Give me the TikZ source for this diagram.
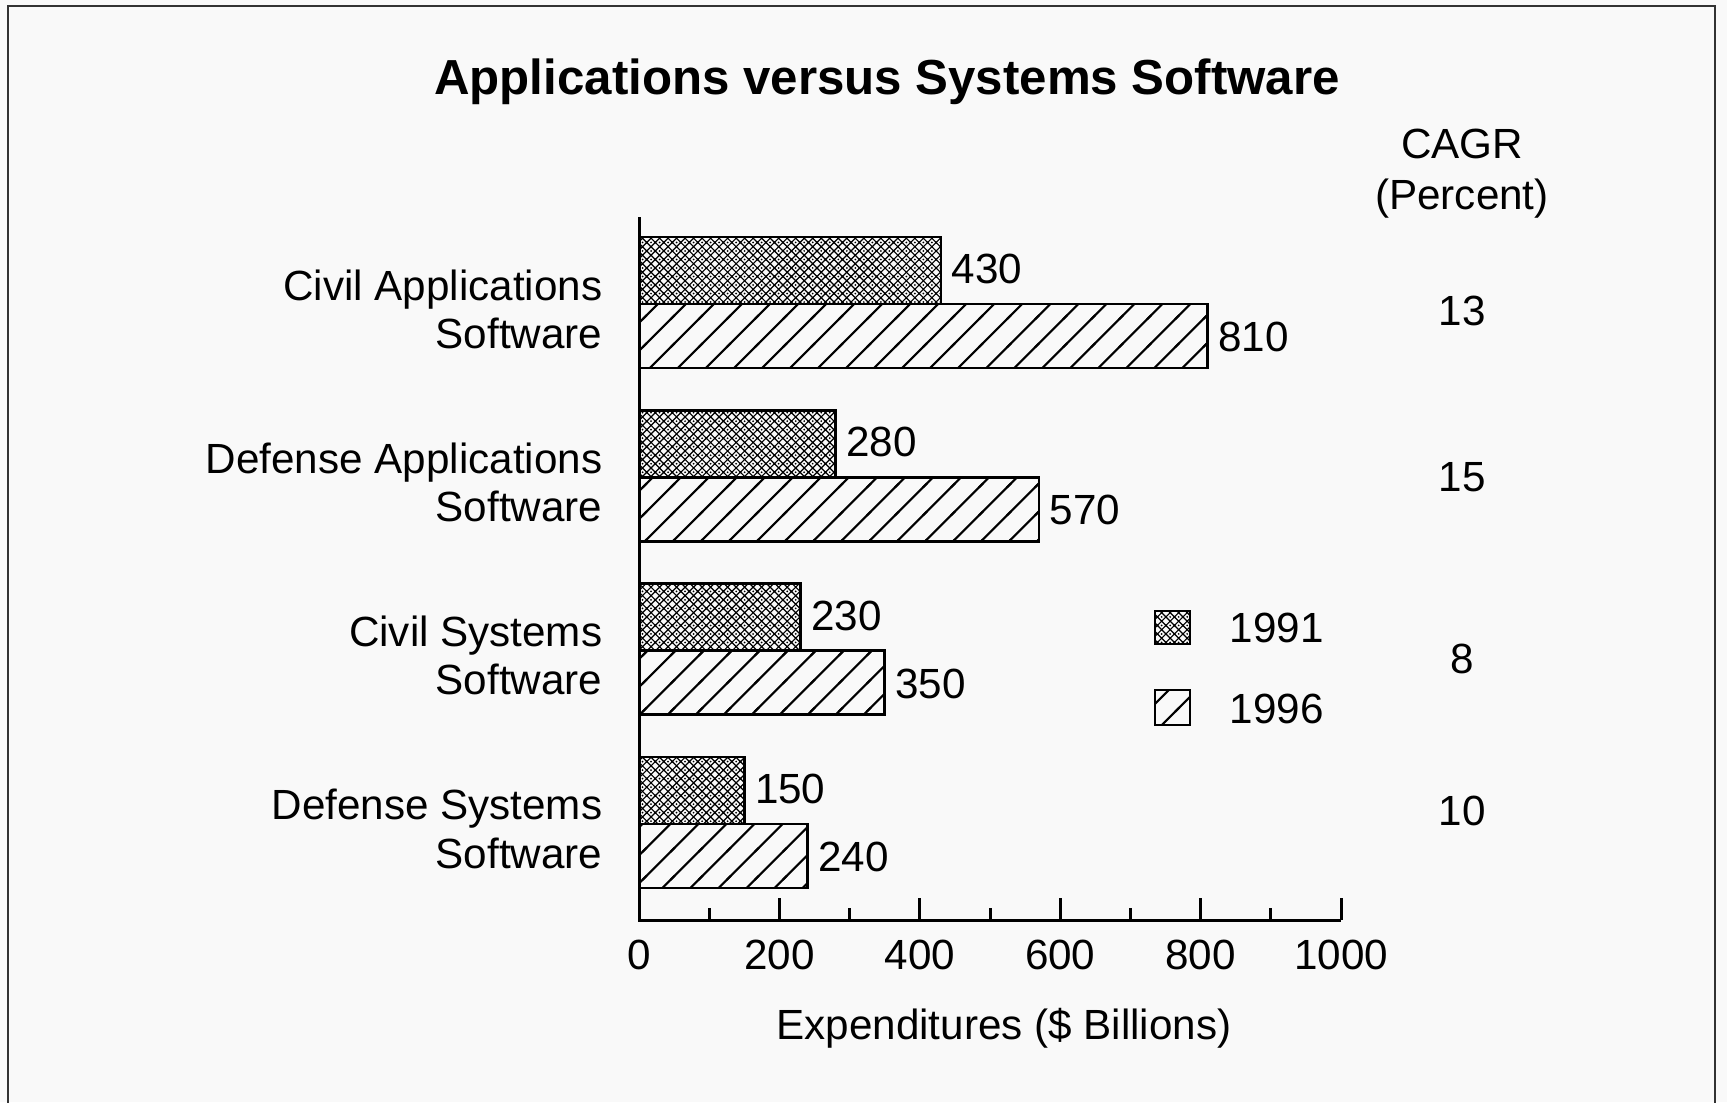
\documentclass[tikz,border=0pt]{standalone}
\usepackage{fontspec}
\setmainfont{Liberation Sans}
\usetikzlibrary{patterns}

\pgfdeclarepatternformonly{diaghatch}{\pgfqpoint{-1pt}{-1pt}}{\pgfqpoint{9pt}{9pt}}{\pgfqpoint{7.97pt}{7.97pt}}{%
  \pgfsetlinewidth{0.6pt}%
  \pgfpathmoveto{\pgfqpoint{-0.6pt}{-0.6pt}}%
  \pgfpathlineto{\pgfqpoint{8.57pt}{8.57pt}}%
  \pgfusepath{stroke}}

\pgfdeclarepatternformonly{xhatchdots}{\pgfqpoint{-0.5pt}{-0.5pt}}{\pgfqpoint{2.92pt}{2.92pt}}{\pgfqpoint{2.42pt}{2.42pt}}{%
  \pgfsetlinewidth{0.33pt}%
  \pgfpathmoveto{\pgfqpoint{-0.2pt}{-0.2pt}}%
  \pgfpathlineto{\pgfqpoint{2.62pt}{2.62pt}}%
  \pgfpathmoveto{\pgfqpoint{-0.2pt}{2.62pt}}%
  \pgfpathlineto{\pgfqpoint{2.62pt}{-0.2pt}}%
  \pgfusepath{stroke}%
  \pgfpathcircle{\pgfqpoint{1.21pt}{0pt}}{0.28pt}%
  \pgfusepath{fill}}

\tikzset{
  txt/.style={font=\fontsize{12pt}{13.7pt}\selectfont, inner sep=0pt},
  ttl/.style={font=\fontsize{14pt}{16pt}\selectfont\bfseries, inner sep=0pt},
  barbox/.style={draw, line width=0.7pt},
  bara/.style={barbox, pattern=xhatchdots},
  barb/.style={barbox, pattern=diaghatch},
  axisline/.style={line width=0.85pt},
  frameline/.style={line width=0.6pt, black!80},
}

\begin{document}
\begin{tikzpicture}[x=0.01cm, y=-0.01cm]
\fill[black!2.5] (0,0) rectangle (1727,1102);
\useasboundingbox (0,0) rectangle (1727,1102);
\draw[frameline] (8,1110) -- (8,6) -- (1715,6) -- (1715,1110);

% title
\node[ttl] (title) at (887,82) {Applications versus Systems Software};

% CAGR header
\node[txt] (cagrhead) at (1462,144) {CAGR};
\node[txt] (cagrunit) at (1462,199) {(Percent)};

% bars
\foreach \k/\va/\vb/\cat/\cg/\cy in {
  0/430/810/{Civil Applications\\Software}/13/311,
  1/280/570/{Defense Applications\\Software}/15/477,
  2/230/350/{Civil Systems\\Software}/8/659,
  3/150/240/{Defense Systems\\Software}/10/811}{
  \pgfmathsetmacro\gt{237+173.3*\k}
  \pgfmathsetmacro\gm{\gt+67}
  \pgfmathsetmacro\gb{\gt+131}
  \pgfmathsetmacro\xa{639+0.702*\va}
  \pgfmathsetmacro\xb{639+0.702*\vb}
  \draw[bara] (639,\gt) rectangle (\xa,\gm);
  \draw[barb] (639,\gm) rectangle (\xb,\gb);
  \node[txt, anchor=west] (vala\k) at ({\xa+10},{\gt+32}) {\va};
  \node[txt, anchor=west] (valb\k) at ({\xb+10},{\gm+33}) {\vb};
  \node[txt, anchor=east, align=right] (cat\k) at (603,{\gt+72}) {\cat};
  \node[txt] (cagr\k) at (1462,\cy) {\cg};
}

% axes
\coordinate (otop) at (639,217);
\coordinate (orig) at (639,920);
\coordinate (xend) at (1341,920);
\draw[axisline] (otop) -- (orig) -- (xend);
\foreach \v in {100,300,500,700,900}{
  \draw[axisline] ({639+0.702*\v},920) -- ({639+0.702*\v},908);
}
\foreach \v in {200,400,600,800,1000}{
  \draw[axisline] ({639+0.702*\v},920) -- ({639+0.702*\v},898);
}
\foreach \v in {0,200,400,600,800,1000}{
  \node[txt] (tick\v) at ({639+0.702*\v},955) {\v};
}
\node[txt] (xtitle) at (1004,1028) {Expenditures (\$ Billions)};

% legend
\draw[bara] (1155,611) rectangle (1190,644);
\node[txt, anchor=west] (leg1) at (1229,628) {1991};
\draw[barb] (1155,690) rectangle (1190,725);
\node[txt, anchor=west] (leg2) at (1229,709) {1996};
\end{tikzpicture}
\end{document}
